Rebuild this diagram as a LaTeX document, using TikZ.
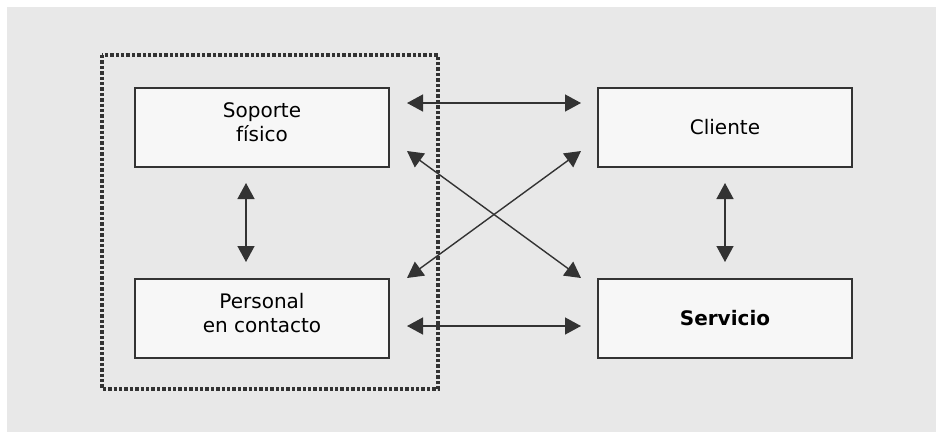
\documentclass[tikz,border=0pt]{standalone}
\usepackage{fontspec}
\setmainfont{DejaVu Sans}
\usetikzlibrary{arrows.meta}
\definecolor{ink}{HTML}{333333}
\definecolor{panel}{HTML}{E8E8E8}
\definecolor{boxfill}{HTML}{F7F7F7}
\begin{document}
\begin{tikzpicture}[x=1pt,y=-1pt,
  block/.style={draw=ink, line width=2pt, fill=boxfill, minimum width=254pt,
    minimum height=79pt, align=center, inner sep=0pt,
    font=\fontsize{20}{23.5}\selectfont, text=black},
  caption/.style={align=center, inner sep=0pt,
    font=\fontsize{20}{23.5}\selectfont, text=black},
  link/.style={draw=ink, line width=1.4pt,
    {Triangle[length=16pt,width=17pt]}-{Triangle[length=16pt,width=17pt]}}]
  \useasboundingbox (0,0) rectangle (936,432);
  \fill[white] (0,0) rectangle (936,432);
  \fill[panel] (7,7) rectangle (936,432);
  % grouping frame around the physical elements
  \draw[ink, line width=3.4pt, dash pattern=on 3.4pt off 2pt] (102,55) rectangle (438,389);
  % blocks
  \node[block] (soporte)  at (262,127) {};
  \node[caption] (soporteText) at ([yshift=5pt]soporte.center) {Soporte\\físico};
  \node[block] (personal) at (262,318) {};
  \node[caption] (personalText) at ([yshift=5pt]personal.center) {Personal\\en contacto};
  \node[block] (cliente)  at (725,127) {Cliente};
  \node[block] (servicio) at (725,318) {\textbf{Servicio}};
  % anchor points for connector ends
  \coordinate (sA) at (407,103);
  \coordinate (cA) at (581,103);
  \coordinate (pA) at (407,326);
  \coordinate (vA) at (581,326);
  \coordinate (sB) at (407,151);
  \coordinate (vB) at (581,278);
  \coordinate (cB) at (581,151);
  \coordinate (pB) at (407,278);
  \coordinate (sC) at (246,183);
  \coordinate (pC) at (246,262);
  \coordinate (cC) at (725,183);
  \coordinate (vC) at (725,262);
  % connectors
  \draw[link] (sA) -- (cA);
  \draw[link] (pA) -- (vA);
  \draw[link] (sB) -- (vB);
  \draw[link] (cB) -- (pB);
  \draw[link] (sC) -- (pC);
  \draw[link] (cC) -- (vC);
\end{tikzpicture}
\end{document}
